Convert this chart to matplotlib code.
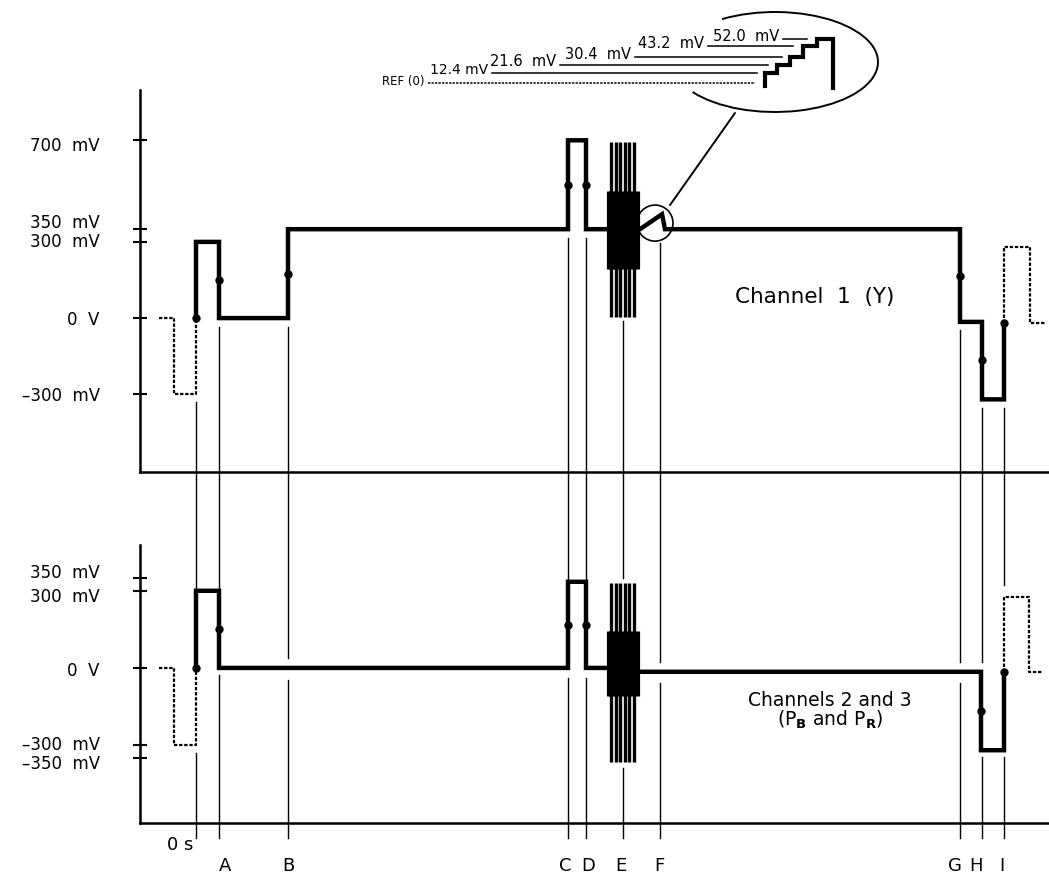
# Component video sync / test waveform diagram: Channel 1 (Y) and Channels 2, 3 (PB, PR)
import matplotlib
matplotlib.use('Agg')
import matplotlib.pyplot as plt
from matplotlib.patches import Ellipse, Arc, ConnectionPatch
from matplotlib.transforms import ScaledTranslation

plt.rcParams['font.family'] = ['DejaVu Sans']

# ---- data (schematic time units, mV) ----
event_names = ['0 s', 'A', 'B', 'C', 'D', 'E', 'F', 'G', 'H', 'I']
event_t = [0, 23, 92, 372, 390, 427, 464, 764, 786, 808]

ch1_t = [0, 0, 23, 23, 92, 92, 372, 372, 390, 390, 444, 466, 469, 764, 764, 786, 786, 808, 808]
ch1_mv = [0, 300, 300, 0, 0, 350, 350, 700, 700, 350, 350, 409, 350, 350, -15, -15, -320, -320, -20]
ch1_pre_t = [-37, -22, -22, 0, 0]
ch1_pre_mv = [0, 0, -300, -300, 0]
ch1_post_t = [808, 808, 834, 834, 849]
ch1_post_mv = [-20, 280, 280, -20, -20]
ch1_dot_t = [0, 23, 92, 372, 390, 764, 786, 808]
ch1_dot_mv = [0, 150, 175, 525, 525, 167, -167, -20]

ch2_t = [0, 0, 23, 23, 372, 372, 390, 390, 411, 444, 785, 785, 808, 808]
ch2_mv = [0, 300, 300, 0, 0, 335, 335, 0, 0, -15, -15, -320, -320, -15]
ch2_pre_t = [-37, -22, -22, 0, 0]
ch2_pre_mv = [0, 0, -300, -300, 0]
ch2_post_t = [808, 808, 833, 833, 847]
ch2_post_mv = [-15, 276, 276, -15, -15]
ch2_dot_t = [0, 23, 372, 390, 785, 808]
ch2_dot_mv = [0, 150, 167, 167, -167, -15]

# colour burst: outer sweeps and the dense core
burst_t = [415, 420, 424, 429, 433, 438]
core_t = [412, 414, 417, 419, 422, 424, 427, 429, 432, 434, 437, 439, 442]
ch1_burst = (5, 695)
ch1_core = (195, 500)
ch2_burst = (-365, 330)
ch2_core = (-110, 145)

ch1_ticks = [700, 350, 300, 0, -300]
ch1_ticklabels = ['700  mV', '350  mV', '300  mV', '0  V', '\u2013300  mV']
ch2_ticks = [350, 300, 0, -300, -350]
ch2_ticklabels = ['350  mV', '300  mV', '0  V', '\u2013300  mV', '\u2013350  mV']

step_levels = [0, 12.4, 21.6, 30.4, 43.2, 52.0]
step_labels = ['REF (0)', '12.4 mV', '21.6  mV', '30.4  mV', '43.2  mV', '52.0  mV']

# ---- layout ----
W, H = 1049, 882
fig = plt.figure(figsize=(W / 100, H / 100), dpi=100)

ax1 = fig.add_axes([140 / W, 1 - 472 / H, 909 / W, 382 / H])
ax2 = fig.add_axes([140 / W, 1 - 823 / H, 909 / W, 278 / H])
ax1.set_ylim(-606, 898)
ax2.set_ylim(-603, 478)

for ax, ticks, labels, offs in [(ax1, ch1_ticks, ch1_ticklabels, [-4, 8, 2, 0, 0]),
                                (ax2, ch2_ticks, ch2_ticklabels, [7, -4, -1, 2, -4])]:
    ax.set_xlim(-56, 853)
    ax.set_xticks([])
    ax.set_yticks(ticks)
    ax.set_yticklabels(labels, fontsize=12)
    ax.tick_params(axis='y', direction='inout', length=10, width=1.5, pad=24)
    for s in ['top', 'right']:
        ax.spines[s].set_visible(False)
    ax.spines['left'].set_linewidth(1.8)
    ax.spines['bottom'].set_linewidth(1.8)
    ax.patch.set_visible(False)
    for lab, dy in zip(ax.get_yticklabels(), offs):
        lab.set_transform(lab.get_transform() + ScaledTranslation(0, dy / 100, fig.dpi_scale_trans))

thick = dict(color='k', lw=3.2, solid_joinstyle='miter', solid_capstyle='butt')
dash = dict(color='k', lw=1.6, ls=(0, (1.5, 0.8)))
thin = dict(color='k', lw=1.0, clip_on=False)

# channel 1
ax1.plot(ch1_pre_t, ch1_pre_mv, **dash)
ax1.plot(ch1_post_t, ch1_post_mv, **dash)
ax1.plot(ch1_t, ch1_mv, **thick)
ax1.plot(ch1_dot_t, ch1_dot_mv, 'o', color='k', ms=5)
ax1.vlines(core_t, *ch1_core, color='k', lw=2.3)
ax1.vlines(burst_t, *ch1_burst, color='k', lw=2.4)
ax1.add_patch(Ellipse((459, 374), 36, 142, fill=False, lw=1.2, color='k'))

# channels 2 and 3
ax2.plot(ch2_pre_t, ch2_pre_mv, **dash)
ax2.plot(ch2_post_t, ch2_post_mv, **dash)
ax2.plot(ch2_t, ch2_mv, **thick)
ax2.plot(ch2_dot_t, ch2_dot_mv, 'o', color='k', ms=5)
ax2.vlines(core_t, *ch2_core, color='k', lw=2.3)
ax2.vlines(burst_t, *ch2_burst, color='k', lw=2.4)

# thin timing lines, broken where they meet the waveforms
top_start = [-331, -35, -35, 315, 315, -10, 295, -47, -354, -354]
bot_stop = [296, 300, 39, 335, 335, 350, 23, 23, 23, 323]
bot_resume = [-330, -27, -47, -39, -39, -390, -58, -58, -346, -346]
for t, a, b, c in zip(event_t, top_start, bot_stop, bot_resume):
    ax1.plot([t, t], [a, -606], **thin)
    ax2.plot([t, t], [762, b], **thin)
    ax2.plot([t, t], [c, -661], **thin)

label_t = [-16, 29, 92, 369, 392, 425, 463, 759, 780, 806]
for name, t in zip(event_names, label_t):
    y = -689 if name == '0 s' else -770
    ax2.text(t, y, name, ha='center', va='center', fontsize=13, clip_on=False)

ax1.text(619, 83, 'Channel  1  (Y)', ha='center', va='center', fontsize=15.5)
ax2.text(634, -125, 'Channels 2 and 3', ha='center', va='center', fontsize=13.5)
ax2.text(634, -202, r'(P$_{\mathbf{B}}$ and P$_{\mathbf{R}}$)', ha='center', va='center', fontsize=13.5)

# ---- staircase inset ----
axi = fig.add_axes([380 / W, 1 - 120 / H, 510 / W, 120 / H])
axi.set_xlim(380, 890)
axi.set_ylim(-43.7, 98.1)
axi.axis('off')

riser_x = [765, 777, 790, 803, 817]
sx, sy = [765], [-4]
for x0, x1, v in zip(riser_x, riser_x[1:] + [833], step_levels[1:]):
    sx += [x0, x1]
    sy += [v, v]
sx.append(833)
sy.append(-6)
axi.plot(sx, sy, color='k', lw=3.0, solid_joinstyle='miter')

line_start = [428, 492, 560, 635, 708, 783]
line_end = [755, 757, 768, 782, 793, 807]
label_size = [8.5, 10, 10.5, 10.5, 10.5, 10.5]
for v, x0, x1, lab, fs in zip(step_levels, line_start, line_end, step_labels, label_size):
    ls = (0, (1.5, 0.8)) if v == 0 else '-'
    axi.plot([x0, x1], [v, v], color='k', lw=1.1, ls=ls)
    axi.text(x0 - 4, v - 2, lab, ha='right', va='baseline', fontsize=fs)

# big callout ellipse and its pointer
axo = fig.add_axes([0, 0, 1, 1])
axo.set_xlim(0, W)
axo.set_ylim(0, H)
axo.axis('off')
axo.add_patch(Arc((775, 820), 206, 100, theta1=200, theta2=141, lw=1.4, color='k'))
con = ConnectionPatch(xyA=(474, 445), coordsA=ax1.transData,
                      xyB=(735, H - 113), coordsB=axo.transData, color='k', lw=1.4)
fig.add_artist(con)

fig.savefig('out.png', dpi=100)
